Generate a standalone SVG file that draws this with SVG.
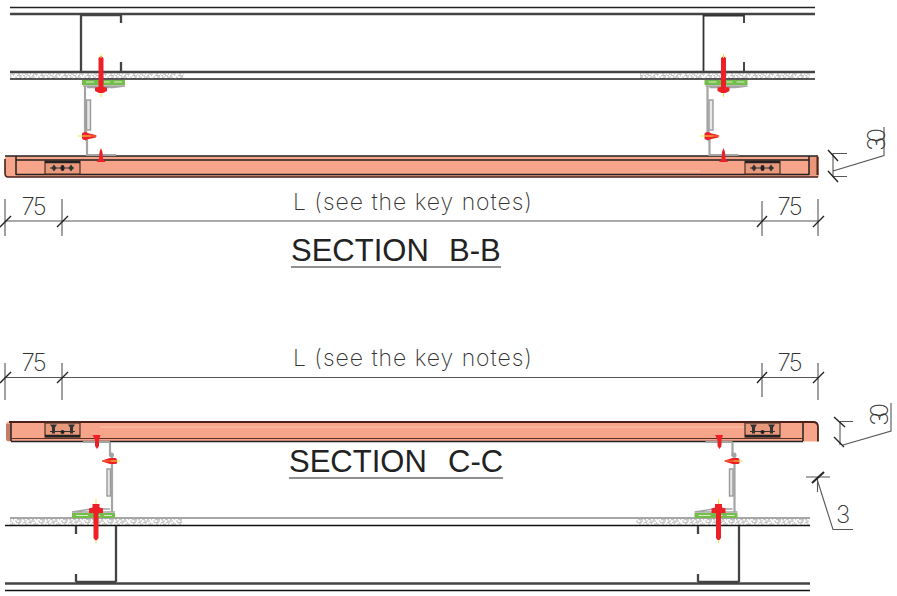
<svg xmlns="http://www.w3.org/2000/svg" width="897" height="596" viewBox="0 0 897 596">
<style>
.thin{stroke:#222;stroke-width:1.3;fill:none}
.thick{stroke:#444;stroke-width:2.6;fill:none}
.chan{stroke:#444;stroke-width:2.3;fill:none}
.dim{stroke:#555;stroke-width:1.1;fill:none}
.tick{stroke:#222;stroke-width:1.4;fill:none}
.gray{stroke:#a4a4a4;stroke-width:2.2;fill:none}
.gray2{stroke:#9a9a9a;stroke-width:1.4;fill:#e8e8e8}
.red{fill:#ee2027}
.grn{fill:#74bd4b}
.yel{stroke:#f5e63c;stroke-width:1;fill:none}
.sl{fill:#f7a58a}
.dk1{stroke:#222;stroke-width:1.5;fill:none}
.boxf{fill:#e8997c;stroke:#4a3028;stroke-width:1.2}
.t{font-family:"Inter","Roboto",sans-serif;font-weight:200;fill:#333}
.h{font-family:"Liberation Sans",Arial,sans-serif;font-size:31px;fill:#222}
.hl{stroke:#222;stroke-width:1.2}
</style>
<defs>
<pattern id="sp" width="23" height="6" patternUnits="userSpaceOnUse">
<path d="M0 .7H3M5 .7H9M12 .7H13M16 .7H21M2 2.200H5M7 2.200H8M10 2.200H15M18 2.200H20M22 2.200H23M0 3.700H2M4 3.700H7M9 3.700H11M13 3.700H14M17 3.700H22M1 5.200H4M6 5.200H12M15 5.200H17M19 5.200H22" stroke="#c6c6c6" stroke-width="1.200"/>
</pattern>
<g id="boxB"><rect class="boxf" x="0" y="1" width="35" height="13"/><path d="M0 2H35" stroke="#222" stroke-width="2.500"/><path d="M5 8H29" stroke="#333" stroke-width="1"/><path d="M9 4.500L11.500 8L9 11.500L6.500 8ZM26 4.500L28.500 8L26 11.500L23.500 8Z" fill="#333"/><ellipse cx="17.500" cy="8" rx="2" ry="3" fill="#222"/></g>
<g id="boxC"><rect class="boxf" x="0" y="0.500" width="35" height="14"/><path d="M0 13.500H35" stroke="#222" stroke-width="2.500"/><path d="M5 9H30" stroke="#333" stroke-width="1"/><path d="M5 2H12L10 5V11H7V5ZM23 2H30L28 5V11H25V5Z" fill="#333"/><circle cx="17.500" cy="9.500" r="2" fill="#222"/></g>
<g id="fixB">
<rect class="grn" x="-19" y="1" width="43" height="5"/>
<path d="M-15 3H-7M3 3H9M13 3H21" stroke="#d8efc8" stroke-width="1.200"/>
<path class="gray" d="M-18 7H24L12 8.500H-14" style="stroke-width:1.500"/>
<path class="gray" d="M-16 7V56"/>
<rect class="gray2" x="-14.500" y="21" width="4" height="30"/>
<path class="gray" d="M-15 50V62M-14 60V76H15"/>
<path class="red" d="M-2.500 -21L0 -23L2.500 -21L2.500 8L6 8.500L6 12L2 14H-2L-6 12L-6 8.500L-2.500 8Z"/>
<path class="yel" d="M0 -25V-21M0 14V18"/>
<path class="red" d="M-19 55Q-19 53 -15 53L-12 54.500L-5 56V58.500L-12 60L-15 61Q-19 61 -19 59Z"/>
<path d="M-23 57H-10" stroke="#f5e63c" stroke-width="1"/><path d="M-10 57H-4" stroke="#f08030" stroke-width="1"/>
<path class="red" d="M-1.500 73L0 69L1.500 73L2 80L4.500 83H-4.500L-2 80Z"/>
</g>
<g id="fixC">
<rect class="grn" x="-24" y="-5" width="43" height="5"/>
<path d="M-20 -2.500H-8M-2 -2.500H4M8 -2.500H16" stroke="#d8efc8" stroke-width="1.200"/>
<path class="gray" d="M-24 -6L-5 -9H14M-24 -6H19" style="stroke-width:1.500"/>
<path class="gray" d="M16 -6V-62M14 -76V-62M-13 -76H14"/>
<rect class="gray2" x="11" y="-49" width="3.500" height="27"/>
<circle cx="15.500" cy="-63" r="2.500" fill="#a4a4a4"/>
<path class="red" d="M-3.500 -14H3.500V-10.500L7 -9.500V-5H2.500V20L0 23L-2.500 20V-5H-7V-9.500L-3.500 -10.500Z"/>
<path class="yel" d="M0 -19V-14M0 22V25"/>
<path class="red" d="M6 -57.500L14 -60H19Q21 -60 21 -58V-55Q21 -54 19 -54H14L6 -56.500Z"/>
<path d="M7 -57H15" stroke="#f08030" stroke-width="1"/><path d="M15 -57H24" stroke="#f5e63c" stroke-width="1"/>
<path class="red" d="M-3.500 -83H4.500L3 -78V-72L1 -69L-1 -72V-78Z"/>
</g>
</defs>

<g id="section-bb">
<g id="deck-bb">
<rect x="10" y="73" width="174" height="6" fill="url(#sp)"/>
<rect x="640" y="73" width="170" height="6" fill="url(#sp)"/>
<path class="thin" d="M10 7.500H815M10 79H815"/>
<path class="thick" d="M10 14H815M10 72H815"/>
<path class="chan" d="M81 14V71M80 15H121M121 14V23M121 62V71"/>
<path class="chan" d="M703.500 14V71M703 15.500H744M744 14V23M744 62V71" style="stroke:#333;stroke-width:1.800"/>
</g>
<g id="slab-bb">
<path class="sl" d="M8 156H819V177H8Q5 177 5 173V159Q5 156 8 156Z"/>
<path d="M5 159V173Q5 177 8 177H818" stroke="#4a2018" stroke-width="1.600" fill="none"/>
<path d="M809 157H817V175H809Z" fill="#ea9678"/>
<path d="M817.500 157V175" stroke="#4a2018" stroke-width="2"/>
<path class="dk1" d="M5 156H818M16 160H809M16 174.500H809M16 156V175M809 156V175"/>
<path d="M640 171H700" stroke="#fbc3ad" stroke-width="1"/>
<use href="#boxB" x="45" y="160"/>
<use href="#boxB" x="745" y="160"/>
</g>
<g id="fixing-bb-left"><use href="#fixB" x="101" y="79"/></g>
<g id="fixing-bb-right"><use href="#fixB" x="723.500" y="79"/></g>
<g id="dims-bb">
<path class="dim" d="M5 221H819M5 199V236M62 199V236M762 201V236M818 199V236"/>
<path class="tick" d="M0 227L11 216M57 227L68 216M757 227L767 216M813 227L824 216"/>
<path class="dim" d="M833 153.500H847M833 176.500H847M833 153V177M833 171L884 155.500V127"/>
<path class="tick" d="M828 150L838 161M828 171L838 182"/>
<text class="t" font-size="24" x="34" y="215" text-anchor="middle" textLength="25">75</text>
<text class="t" font-size="24" x="790" y="215" text-anchor="middle" textLength="25">75</text>
<text class="t" font-size="24" transform="translate(885 151) rotate(-90)" textLength="23">30</text>
<text class="t" font-size="23" x="293" y="210" textLength="239">L (see the key notes)</text>
</g>
<g id="title-bb">
<text class="h" x="291" y="261" xml:space="preserve" word-spacing="1.500">SECTION  B-B</text>
<path class="hl" d="M291 267H501"/>
</g>
</g>

<g id="section-cc">
<g id="dims-cc">
<path class="dim" d="M5 377.500H819M5 363V400M62 363V400M762 363V397M818 363V400"/>
<path class="tick" d="M0 383L11 372M57 383L68 372M757 383L767 372M813 383L824 372"/>
<path class="dim" d="M840 421.500H853M840 421V445M843 445L891 431V403"/>
<path class="tick" d="M834 417L845 427M834 437L844 447"/>
<text class="t" font-size="24" x="34" y="371" text-anchor="middle" textLength="25">75</text>
<text class="t" font-size="24" x="790" y="371" text-anchor="middle" textLength="25">75</text>
<text class="t" font-size="24" transform="translate(888 426) rotate(-90)" textLength="23">30</text>
<text class="t" font-size="23" x="293" y="366" textLength="239">L (see the key notes)</text>
</g>
<g id="slab-cc">
<path class="sl" d="M9 421.500H813Q818 421.500 818 426V441.500H9Q6 441.500 6 438V425Q6 421.500 9 421.500Z"/>
<path d="M9 422H813Q818 422 818 427V441.500" stroke="#4a2018" stroke-width="1.800" fill="none"/>
<path d="M6 424H11V441H8Q6 441 6 438Z" fill="#c47c66"/>
<path class="dk1" d="M11 423V441M803 423V441M11 441.500H803"/>
<path d="M11 438.500H803" stroke="#5a3028" stroke-width="1"/>
<path d="M100 427H780" stroke="#fbc3ad" stroke-width="1"/>
<use href="#boxC" x="45" y="422.500"/>
<use href="#boxC" x="745" y="422.500"/>
</g>
<g id="title-cc">
<text class="h" x="289" y="472" xml:space="preserve" word-spacing="2">SECTION  C-C</text>
<path class="hl" d="M289 478H503"/>
</g>
<g id="deck-cc">
<rect x="10" y="519" width="172" height="6" fill="url(#sp)"/>
<rect x="636" y="519" width="173" height="6" fill="url(#sp)"/>
<path d="M10 518H810" stroke="#888" stroke-width="1.300"/>
<path d="M5 525.500H810M5 590.500H810" stroke="#111" stroke-width="1.500"/>
<path class="thick" d="M5 583.500H810"/>
<path class="chan" d="M116 526V582M76 582H116M76 574V582M76 526V534"/>
<path class="chan" d="M739 526V582M698 582H739M698 574V582M698 526V534"/>
</g>
<g id="fixing-cc-left"><use href="#fixC" x="96" y="518"/></g>
<g id="fixing-cc-right"><use href="#fixC" x="718.500" y="518"/></g>
<g id="dim-3">
<path class="dim" d="M806 477H830M817.500 477V492M817 479L833 529.500H853"/>
<path class="tick" d="M812 483L824 472" style="stroke-width:2"/>
<text class="t" font-size="24" x="843" y="523" text-anchor="middle">3</text>
</g>
</g>
</svg>
